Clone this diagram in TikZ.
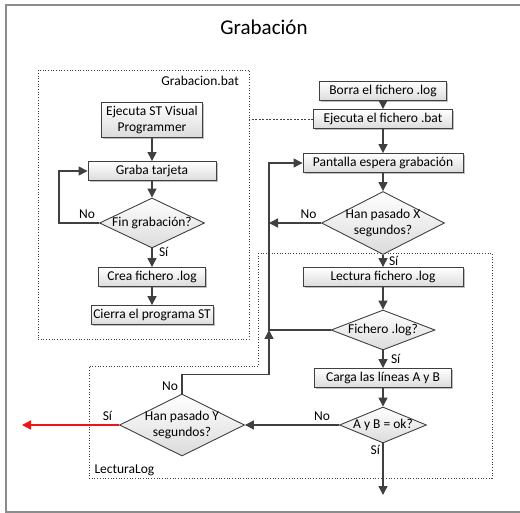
\documentclass[tikz,border=0pt]{standalone}
\usepackage{fontspec}
\setmainfont{Carlito}
\usepackage{tikz}
\usetikzlibrary{shapes.geometric, arrows.meta, positioning, shadows}
\definecolor{lineagris}{RGB}{64, 64, 64}
\definecolor{marcogris}{RGB}{140, 140, 140}
\definecolor{rojo}{RGB}{240, 20, 20}

\begin{document}
\begin{tikzpicture}[
    x=1pt, y=-1pt,
    texto/.style={font=\fontsize{13.5}{15.5}\selectfont, text=black},
    proceso/.style={texto, draw=lineagris, line width=0.9pt, rectangle, top color=white, bottom color=black!14, drop shadow={shadow xshift=1.8pt, shadow yshift=-1.8pt, opacity=0.25, fill=black}, minimum height=19pt, inner sep=2pt, align=center},
    decision/.style={texto, diamond, aspect=2.4, draw=lineagris, line width=0.9pt, top color=white, bottom color=black!14, inner sep=-3pt, align=center},
    flecha/.style={draw=lineagris, line width=1.4pt, -{Triangle[length=9pt, width=9pt]}},
    grupo/.style={draw=black!75, dotted, line width=0.7pt}
]
    \useasboundingbox (0,0) rectangle (520,513);
    \draw[marcogris, line width=1.2pt] (6,5) rectangle (540,512);

    \node[texto, font=\fontsize{21}{25}\selectfont] (titulo) at (264,27) {Grabación};

    % bloque del .bat
    \node[grupo, minimum width=211pt, minimum height=269pt] (grabacionBat) at (143.5,204.5) {};
    \node[texto, anchor=north east] at ([shift={(-7,3)}]grabacionBat.north east) {Grabacion.bat};

    \node[proceso, minimum width=101pt, minimum height=35pt] (ejecutaST) at (152,120) {Ejecuta ST Visual\\Programmer};
    \node[proceso, minimum width=128pt] (graba) at (152,171) {Graba tarjeta};
    \node[decision, minimum width=105pt, minimum height=50pt] (fin) at (152,223) {Fin grabación?};
    \node[proceso, minimum width=107pt] (crea) at (152,277) {Crea fichero .log};
    \node[proceso, minimum width=122pt] (cierra) at (152,315) {Cierra el programa ST};

    \draw[flecha] (ejecutaST) -- (graba);
    \draw[flecha] (graba) -- (fin);
    \draw[flecha] (fin.west) -- node[texto, above, pos=0.3] {No} ++(-40,0) |- (graba.west);
    \draw[flecha] (fin) -- node[texto, right, pos=0.2, xshift=3pt] {Sí} (crea);
    \draw[flecha] (crea) -- (cierra);

    % bloque de lectura del .log
    \draw[grupo] (258,253) -- (492,253) -- (492,478) -- (89,478) -- (89,366) -- (258,366) -- cycle;
    \node[texto, anchor=south west] at (91,479) {LecturaLog};

    \node[proceso, minimum width=127pt] (borra) at (383,91) {Borra el fichero .log};
    \node[proceso, minimum width=139pt] (ejecutaBat) at (383,119) {Ejecuta el fichero .bat};
    \node[proceso, minimum width=160pt] (pantalla) at (383,163) {Pantalla espera grabación};
    \node[decision, minimum width=123pt, minimum height=63pt] (pasadoX) at (383,223) {Han pasado X\\segundos?};
    \node[proceso, minimum width=160pt] (lectura) at (383,277) {Lectura fichero .log};
    \node[decision, minimum width=104pt, minimum height=40pt] (fichero) at (383,330) {Fichero .log?};
    \node[proceso, minimum width=137pt] (carga) at (383,378) {Carga las líneas A y B};
    \node[decision, minimum width=87pt, minimum height=36pt] (ok) at (383,425) {A y B = ok?};
    \node[decision, minimum width=125pt, minimum height=62pt] (pasadoY) at (182,425) {Han pasado Y\\segundos?};

    \coordinate (columna) at (269,0);
    \coordinate (retorno) at (fichero.west -| columna);
    \coordinate (salida) at (383,495);
    \coordinate (salidaRoja) at (22,425);

    \draw[lineagris, dashed, dash pattern=on 2pt off 1.5pt, line width=0.7pt] (ejecutaBat.west) -- (ejecutaBat.west -| grabacionBat.east);

    \draw[flecha] (borra) -- (ejecutaBat);
    \draw[flecha] (ejecutaBat) -- (pantalla);
    \draw[flecha] (pantalla) -- (pasadoX);
    \draw[flecha] (pasadoX.west) -- node[texto, above, pos=0.24] {No} (pasadoX.west -| columna);
    \draw[flecha] (pasadoX) -- node[texto, right, xshift=2pt] {Sí} (lectura);
    \draw[flecha] (lectura) -- (fichero);
    \draw[flecha] (fichero.west) -- (retorno) |- (pantalla.west);
    \draw[flecha] (fichero) -- node[texto, right, xshift=4pt] {Sí} (carga);
    \draw[flecha] (carga) -- (ok);
    \draw[flecha] (ok.west) -- node[texto, above, pos=0.18] {No} (pasadoY.east);
    \draw[flecha] (ok.south) -- node[texto, left, pos=0.12, xshift=1pt] {Sí} (salida);
    \draw[flecha] (pasadoY.north) -- node[texto, left, pos=0.4] {No} ++(0,-19) -| (retorno);
    \draw[flecha, draw=rojo] (pasadoY.west) -- node[texto, above, pos=0.12] {Sí} (salidaRoja);
\end{tikzpicture}
\end{document}
